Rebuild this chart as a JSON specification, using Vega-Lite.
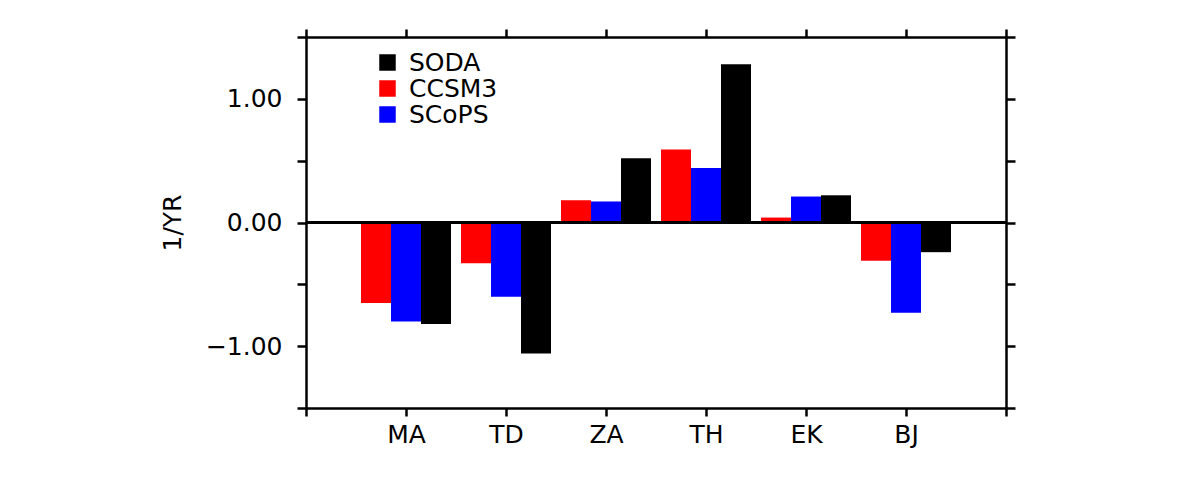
{
  "$schema": "https://vega.github.io/schema/vega-lite/v6.json",
  "autosize": {"type": "none"},
  "padding": {"left": 306, "top": 37, "right": 184, "bottom": 95},
  "width": 700,
  "height": 371,
  "background": "white",
  "config": {
    "view": {"stroke": null},
    "font": "DejaVu Sans",
    "axis": {
      "domainColor": "black",
      "domainWidth": 2.5,
      "tickColor": "black",
      "tickWidth": 2.5,
      "labelColor": "black",
      "labelFont": "DejaVu Sans",
      "labelFontSize": 25,
      "titleFont": "DejaVu Sans",
      "titleFontSize": 25,
      "titleFontWeight": "normal",
      "titleColor": "black",
      "grid": false
    }
  },
  "data": {
    "values": [
      {"region": "MA", "series": "CCSM3", "value": -0.65},
      {"region": "MA", "series": "SCoPS", "value": -0.80},
      {"region": "MA", "series": "SODA", "value": -0.82},
      {"region": "TD", "series": "CCSM3", "value": -0.33},
      {"region": "TD", "series": "SCoPS", "value": -0.60},
      {"region": "TD", "series": "SODA", "value": -1.06},
      {"region": "ZA", "series": "CCSM3", "value": 0.18},
      {"region": "ZA", "series": "SCoPS", "value": 0.17},
      {"region": "ZA", "series": "SODA", "value": 0.52},
      {"region": "TH", "series": "CCSM3", "value": 0.59},
      {"region": "TH", "series": "SCoPS", "value": 0.44},
      {"region": "TH", "series": "SODA", "value": 1.28},
      {"region": "EK", "series": "CCSM3", "value": 0.04},
      {"region": "EK", "series": "SCoPS", "value": 0.21},
      {"region": "EK", "series": "SODA", "value": 0.22},
      {"region": "BJ", "series": "CCSM3", "value": -0.31},
      {"region": "BJ", "series": "SCoPS", "value": -0.73},
      {"region": "BJ", "series": "SODA", "value": -0.24}
    ]
  },
  "layer": [
    {
      "mark": {"type": "bar", "strokeWidth": 0},
      "encoding": {
        "x": {
          "field": "region",
          "type": "nominal",
          "scale": {"domain": ["MA", "TD", "ZA", "TH", "EK", "BJ"], "paddingInner": 0.1, "paddingOuter": 0.55},
          "axis": null
        },
        "xOffset": {
          "field": "series",
          "type": "nominal",
          "scale": {"domain": ["CCSM3", "SCoPS", "SODA"], "paddingInner": 0, "paddingOuter": 0}
        },
        "y": {
          "field": "value",
          "type": "quantitative",
          "scale": {"domain": [-1.5, 1.5], "nice": false, "zero": false},
          "axis": {
            "orient": "left",
            "title": "1/YR",
            "values": [-1.5, -1, -0.5, 0, 0.5, 1, 1.5],
            "format": ".2f",
            "labelExpr": "(abs(datum.value) == 0.5 || abs(datum.value) == 1.5) ? '' : datum.label",
            "tickSize": 9,
            "labelPadding": 15,
            "titlePadding": 20
          }
        },
        "color": {
          "field": "series",
          "type": "nominal",
          "scale": {"domain": ["SODA", "CCSM3", "SCoPS"], "range": ["#000000", "#ff0000", "#0000ff"]},
          "legend": {
            "title": null,
            "orient": "none",
            "legendX": 69,
            "legendY": 13,
            "padding": 0,
            "symbolType": "square",
            "symbolSize": 272,
            "symbolStrokeWidth": 0,
            "labelFont": "DejaVu Sans",
            "labelFontSize": 25,
            "labelColor": "black",
            "labelOffset": 9,
            "rowPadding": 0
          }
        }
      }
    },
    {
      "mark": {"type": "rule", "color": "black", "strokeWidth": 2.5},
      "encoding": {
        "x": {
          "datum": 0,
          "type": "quantitative",
          "scale": {"domain": [0, 7], "nice": false, "zero": false},
          "axis": {
            "orient": "bottom",
            "title": null,
            "values": [0, 1, 2, 3, 4, 5, 6, 7],
            "labelExpr": "['', 'MA', 'TD', 'ZA', 'TH', 'EK', 'BJ', ''][datum.value]",
            "tickSize": 8,
            "labelPadding": 6
          }
        },
        "x2": {"datum": 7},
        "y": {
          "datum": 0,
          "type": "quantitative",
          "scale": {"domain": [-1.5, 1.5], "nice": false, "zero": false},
          "axis": {
            "orient": "right",
            "title": null,
            "values": [-1.5, -1, -0.5, 0, 0.5, 1, 1.5],
            "labels": false,
            "tickSize": 9
          }
        }
      }
    },
    {
      "mark": {"type": "rule", "color": "black", "strokeWidth": 2.5},
      "encoding": {
        "x": {
          "datum": 0,
          "type": "quantitative",
          "scale": {"domain": [0, 7], "nice": false, "zero": false},
          "axis": {
            "orient": "top",
            "title": null,
            "values": [0, 1, 2, 3, 4, 5, 6, 7],
            "labels": false,
            "tickSize": 8
          }
        },
        "x2": {"datum": 7},
        "y": {
          "datum": 0,
          "type": "quantitative",
          "scale": {"domain": [-1.5, 1.5], "nice": false, "zero": false},
          "axis": null
        }
      }
    }
  ],
  "resolve": {
    "scale": {"x": "independent"},
    "axis": {"x": "independent", "y": "independent"}
  }
}
